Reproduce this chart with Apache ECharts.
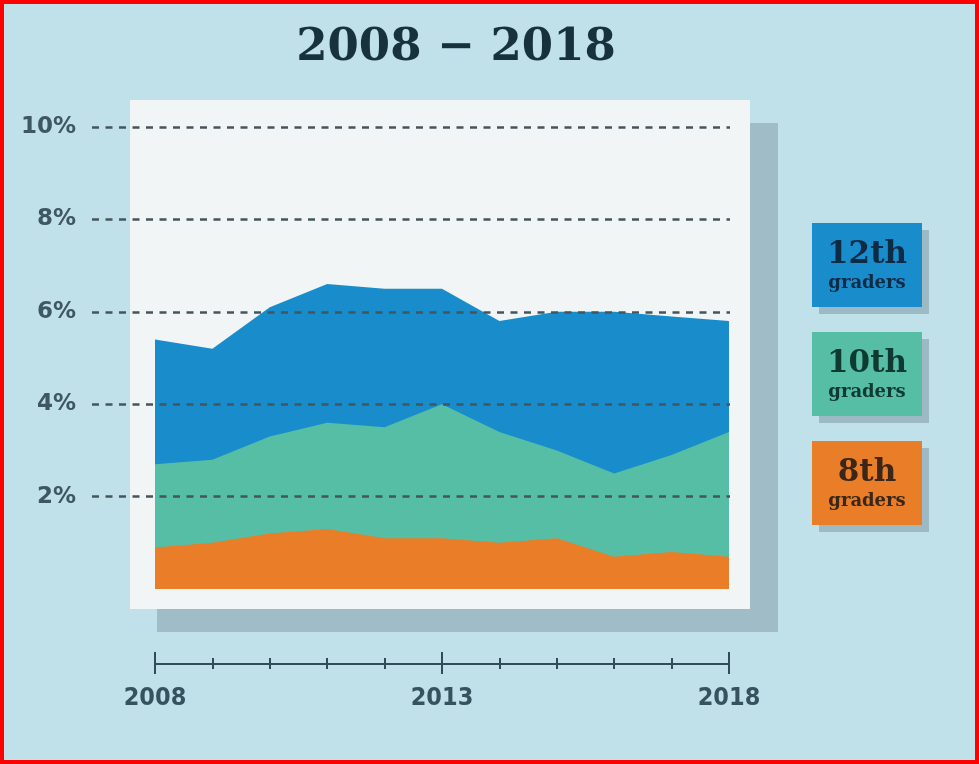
<!DOCTYPE html>
<html>
<head>
<meta charset="utf-8">
<title>Daily use by grade, 2008 – 2018</title>
<script src="https://cdn.jsdelivr.net/npm/echarts@6/dist/echarts.min.js"></script>
<style>
  html, body { margin: 0; padding: 0; background: #c0e0ea; }
  #chart { width: 979px; height: 764px; }
</style>
</head>
<body>
<div id="chart"></div>
<script>
// Survey years and percentage of students by grade
const years = [2008, 2009, 2010, 2011, 2012, 2013, 2014, 2015, 2016, 2017, 2018];
const grade12 = [5.4, 5.2, 6.1, 6.6, 6.5, 6.5, 5.8, 6.0, 6.0, 5.9, 5.8];
const grade10 = [2.7, 2.8, 3.3, 3.6, 3.5, 4.0, 3.4, 3.0, 2.5, 2.9, 3.4];
const grade8 = [0.9, 1.0, 1.2, 1.3, 1.1, 1.1, 1.0, 1.1, 0.7, 0.8, 0.7];
const gradeNames = ['12th', '10th', '8th'];
const gradeSub = 'graders';
const titleText = '2008 \u2212 2018';

const gradeValues = [grade12, grade10, grade8];
const fillColors = ['#198dcc', '#56bea5', '#ea7d28'];
const inkColors = ['#0e2b45', '#0f3a31', '#3a2719'];

const chart = echarts.init(document.getElementById('chart'), null, { renderer: 'canvas' });

const axisInk = '#2f4c58';
const baseX = {
  gridIndex: 0, type: 'value', position: 'bottom', min: 2008, max: 2018,
  offset: 75, splitLine: { show: false },
  axisLabel: { show: false }
};

// Legend tiles on the right
const legendTiles = gradeNames.map((name, i) => {
  const top = 223 + i * 109;
  return {
    type: 'group',
    children: [
      { type: 'rect', shape: { x: 819, y: top + 7, width: 110, height: 84 },
        style: { fill: '#9dbac4' } },
      { type: 'rect', shape: { x: 812, y: top, width: 110, height: 84 },
        style: { fill: fillColors[i] } },
      { type: 'text', style: { text: name, x: 867, y: top + 32, align: 'center', verticalAlign: 'middle',
          fill: inkColors[i], font: 'bold 31px "DejaVu Serif", serif' } },
      { type: 'text', style: { text: gradeSub, x: 867, y: top + 60, align: 'center', verticalAlign: 'middle',
          fill: inkColors[i], font: 'bold 18px "DejaVu Serif", serif' } }
    ]
  };
});

const option = {
  backgroundColor: '#c0e0ea',
  animation: false,
  graphic: [
    // panel shadow and panel
    { type: 'rect', z: -10, shape: { x: 157, y: 123, width: 621, height: 509 }, style: { fill: '#a0bdc7' } },
    { type: 'rect', z: -9, shape: { x: 130, y: 100, width: 620, height: 509 }, style: { fill: '#f1f5f5' } },
    { type: 'text', style: { text: titleText, x: 456, y: 48, align: 'center', verticalAlign: 'middle',
        fill: '#17313d', font: 'bold 45px "DejaVu Serif", serif' } },
    ...legendTiles,
    { type: 'rect', z: 100, shape: { x: 2, y: 2, width: 975, height: 760 },
      style: { fill: 'none', stroke: '#ff0000', lineWidth: 4 } }
  ],
  grid: [
    { left: 155, right: 250, top: 127, bottom: 175 },
    { left: 92, right: 249, top: 127, bottom: 175 }
  ],
  xAxis: [
    Object.assign({}, baseX, { interval: 1,
      axisLine: { show: true, onZero: false, lineStyle: { color: axisInk, width: 2 } },
      axisTick: { show: true, length: 5, lineStyle: { color: axisInk, width: 2 } } }),
    Object.assign({}, baseX, { interval: 1, axisLine: { show: false, onZero: false },
      axisTick: { show: true, inside: true, length: 6, lineStyle: { color: axisInk, width: 2 } } }),
    Object.assign({}, baseX, { interval: 5, axisLine: { show: false, onZero: false },
      axisTick: { show: true, length: 10, lineStyle: { color: axisInk, width: 2 } },
      axisLabel: { show: true, margin: 22, color: '#36525e', fontSize: 25, fontWeight: 'bold',
        fontFamily: '"DejaVu Sans Condensed", "DejaVu Sans", sans-serif', formatter: v => String(v) } }),
    Object.assign({}, baseX, { interval: 5, axisLine: { show: false, onZero: false },
      axisTick: { show: true, inside: true, length: 12, lineStyle: { color: axisInk, width: 2 } } }),
    { gridIndex: 1, type: 'value', min: 2008, max: 2018, show: false }
  ],
  yAxis: [
    { gridIndex: 0, type: 'value', min: 0, max: 10, interval: 2, show: false },
    { gridIndex: 1, type: 'value', min: 0, max: 10, interval: 2, z: 10,
      axisLine: { show: false }, axisTick: { show: false },
      splitLine: { show: true, lineStyle: {
        color: ['rgba(0,0,0,0)', '#44555c', '#44555c', '#44555c', '#44555c', '#44555c'],
        type: [7, 6.5], width: 2.5 } },
      axisLabel: { margin: 16, color: '#3e5762', fontSize: 23, fontWeight: 'bold',
        fontFamily: '"DejaVu Sans", sans-serif', formatter: v => (v === 0 ? '' : v + '%') } }
  ],
  series: gradeValues.map((vals, i) => ({
    name: gradeNames[i] + ' ' + gradeSub,
    type: 'line',
    xAxisIndex: 0,
    yAxisIndex: 0,
    silent: true,
    showSymbol: false,
    symbol: 'none',
    lineStyle: { width: 0 },
    itemStyle: { color: fillColors[i] },
    areaStyle: { color: fillColors[i], opacity: 1 },
    z: 2 + i,
    data: years.map((y, k) => [y, vals[k]])
  }))
};

chart.setOption(option);
</script>
</body>
</html>
